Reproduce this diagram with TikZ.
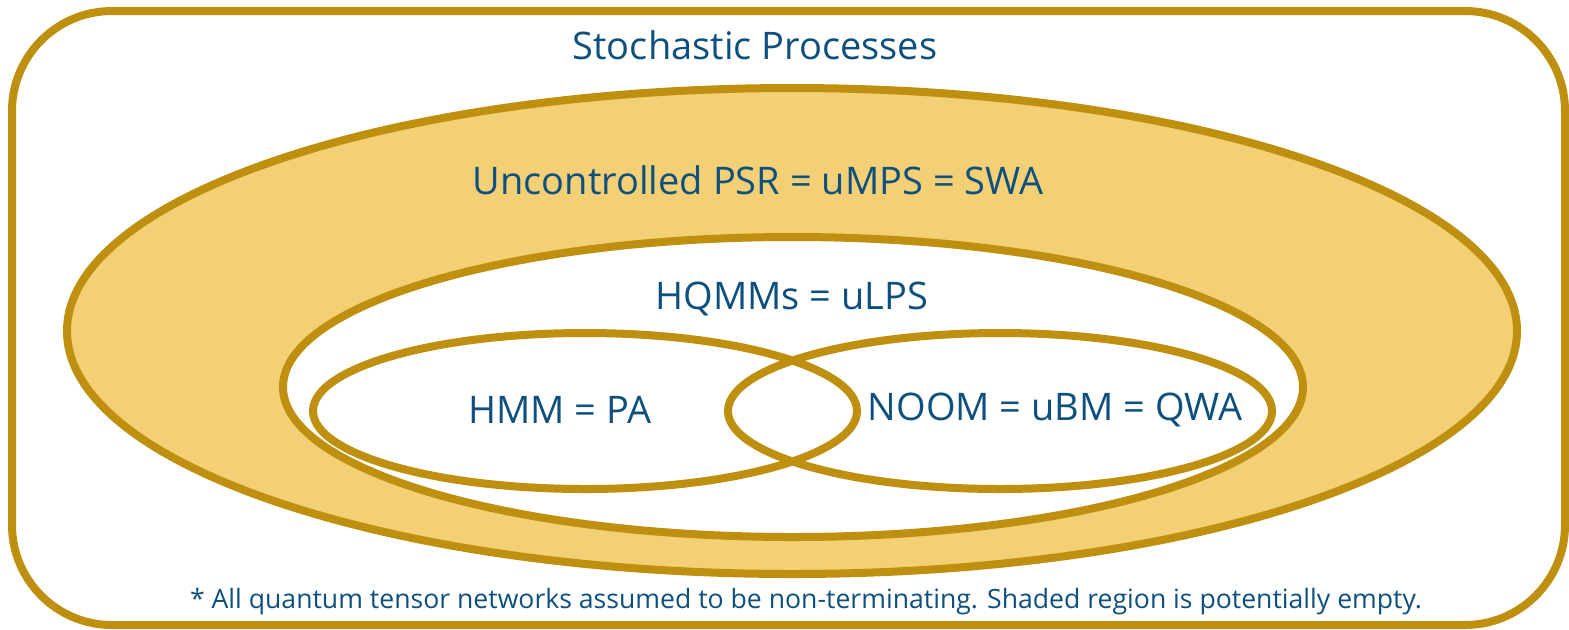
\documentclass[tikz,border=0pt]{standalone}
\usepackage{fontspec}
\setmainfont{Open Sans}
\definecolor{gold}{RGB}{191,143,15}
\definecolor{sand}{RGB}{243,208,118}
\definecolor{ink}{RGB}{14,80,125}

\begin{document}
\begin{tikzpicture}[x=0.5pt, y=-0.5pt, line width=4pt]
        \useasboundingbox (0,0) rectangle (1569,629);
        \draw[gold, rounded corners=50pt] (12,11) rectangle (1565,625);

        \draw[gold, fill=sand] (792,331) ellipse [x radius=725, y radius=243];
        \draw[gold, fill=white] (793,387) ellipse [x radius=510, y radius=150];
        \draw[gold] (585,411) ellipse [x radius=272, y radius=78];
        \draw[gold] (1000,411) ellipse [x radius=272, y radius=78];

        \node[text=ink, font=\fontsize{19}{22}\selectfont] (sp) at (755,45) {Stochastic Processes};
        \node[text=ink, font=\fontsize{19}{22}\selectfont] (psr) at (758,180) {Uncontrolled PSR = uMPS = SWA};
        \node[text=ink, font=\fontsize{19}{22}\selectfont] (hqmm) at (792,299) {HQMMs = uLPS};
        \node[text=ink, font=\fontsize{19}{22}\selectfont] (hmm) at (560,410) {HMM = PA};
        \node[text=ink, font=\fontsize{19}{22}\selectfont] (noom) at (1055,410) {NOOM = uBM = QWA};
        \node[text=ink, font=\fontsize{13.3}{15}\selectfont] (note) at (806,602) {* All quantum tensor networks assumed to be non-terminating. Shaded region is potentially empty.};
    \end{tikzpicture}
\end{document}
